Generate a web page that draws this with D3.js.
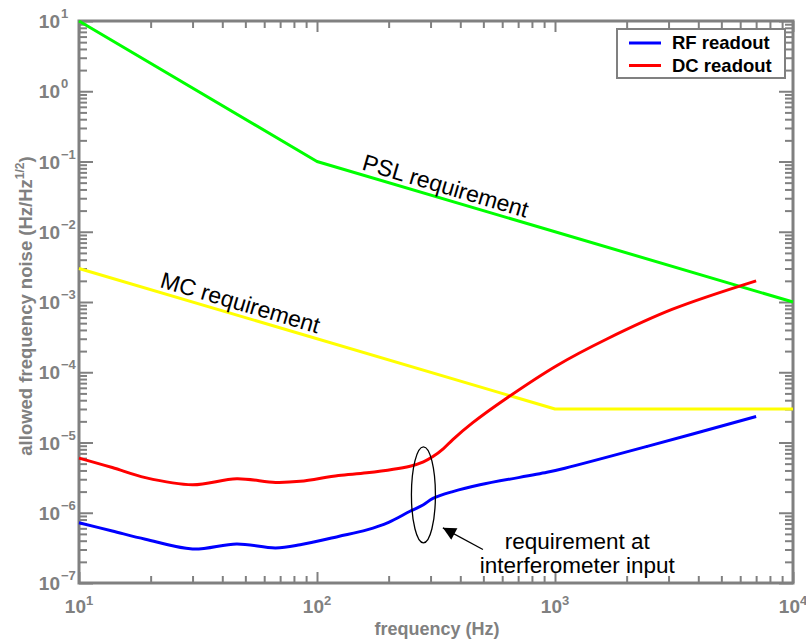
<!DOCTYPE html>
<html>
<head>
<meta charset="utf-8">
<script src="https://cdn.jsdelivr.net/npm/d3@7"></script>
<style>
  body { margin: 0; background: #fff; }
  svg { display: block; }
  text { font-family: "Liberation Sans", Arial, Helvetica, sans-serif; }
  .tick line { stroke: #808080; stroke-width: 2; }
  .domain { display: none; }
</style>
</head>
<body>
<svg id="chart" width="806" height="641"></svg>
<script>
// requirement lines (frequency in Hz, noise in Hz/Hz^1/2)
const pslFreq = [10, 100, 10000];
const pslNoise = [10, 0.1, 1e-3];
const mcFreq = [10, 1000, 10000];
const mcNoise = [3e-3, 3e-5, 3e-5];

// readout curves
const rfFreq = [10, 13.8, 19, 30, 46, 67, 85, 123, 162, 200, 246, 280, 307, 372, 484, 925, 1100, 2440, 7000];
const rfNoise = [7.2e-7, 5.5e-7, 4.2e-7, 3.05e-7, 3.6e-7, 3.16e-7, 3.5e-7, 4.6e-7, 5.7e-7, 7.3e-7, 1.05e-6, 1.3e-6, 1.6e-6, 2.0e-6, 2.5e-6, 3.76e-6, 4.3e-6, 8.8e-6, 2.35e-5];
const dcFreq = [10, 13.8, 19, 30, 46, 67, 85, 123, 162, 246, 280, 307, 340, 372, 450, 628, 1020, 1660, 3120, 7000];
const dcNoise = [6.0e-6, 4.4e-6, 3.16e-6, 2.5e-6, 3.05e-6, 2.7e-6, 2.8e-6, 3.4e-6, 3.7e-6, 4.6e-6, 5.3e-6, 6.3e-6, 8.2e-6, 1.1e-5, 1.9e-5, 4.3e-5, 1.25e-4, 3.0e-4, 7.9e-4, 2.0e-3];

// tick decades
const xTickExps = [1, 2, 3, 4];
const yTickExps = [-7, -6, -5, -4, -3, -2, -1, 0, 1];

const legendLabels = ["RF readout", "DC readout"];
const legendColors = ["#0000ff", "#ff0000"];

const svg = d3.select("#chart");
const pLeft = 79, pRight = 793, pTop = 21, pBottom = 583;
const gray = "#808080";

const x = d3.scaleLog().domain([10, 1e4]).range([pLeft, pRight]);
const y = d3.scaleLog().domain([1e-7, 10]).range([pBottom, pTop]);

// major and minor tick values
function minors(exps) {
    let out = [];
    for (let i = 0; i < exps.length - 1; i++) {
        for (let m = 2; m <= 9; m++) out.push(m * Math.pow(10, exps[i]));
    }
    return out;
}
const xMajor = xTickExps.map(e => Math.pow(10, e));
const yMajor = yTickExps.map(e => Math.pow(10, e));
const xMinor = minors(xTickExps);
const yMinor = minors(yTickExps);

function addAxis(axis, tr) {
    svg.append("g").attr("transform", tr).call(axis);
}
addAxis(d3.axisBottom(x).tickValues(xMajor).tickSize(-11).tickFormat(""), `translate(0,${pBottom})`);
addAxis(d3.axisBottom(x).tickValues(xMinor).tickSize(-7).tickFormat(""), `translate(0,${pBottom})`);
addAxis(d3.axisTop(x).tickValues(xMajor).tickSize(-11).tickFormat(""), `translate(0,${pTop})`);
addAxis(d3.axisTop(x).tickValues(xMinor).tickSize(-7).tickFormat(""), `translate(0,${pTop})`);
addAxis(d3.axisLeft(y).tickValues(yMajor).tickSize(-14).tickFormat(""), `translate(${pLeft},0)`);
addAxis(d3.axisLeft(y).tickValues(yMinor).tickSize(-8).tickFormat(""), `translate(${pLeft},0)`);
addAxis(d3.axisRight(y).tickValues(yMajor).tickSize(-14).tickFormat(""), `translate(${pRight},0)`);
addAxis(d3.axisRight(y).tickValues(yMinor).tickSize(-8).tickFormat(""), `translate(${pRight},0)`);

// frame
svg.append("rect")
    .attr("x", pLeft).attr("y", pTop)
    .attr("width", pRight - pLeft).attr("height", pBottom - pTop)
    .attr("fill", "none").attr("stroke", gray).attr("stroke-width", 3);

// x tick labels
const xl = svg.append("g").selectAll("text").data(xTickExps).enter().append("text")
    .attr("x", d => x(Math.pow(10, d)))
    .attr("y", 613)
    .attr("text-anchor", "middle")
    .attr("fill", gray)
    .attr("font-weight", "bold");
xl.append("tspan").attr("font-size", 19).text("10");
xl.append("tspan").attr("font-size", 13).attr("dy", -8).text(d => String(d).replace("-", "\u2212"));

// y tick labels
const yl = svg.append("g").selectAll("g").data(yTickExps).enter().append("g");
yl.append("text")
    .attr("x", 60).attr("y", d => y(Math.pow(10, d)) + 7)
    .attr("text-anchor", "end")
    .attr("fill", gray).attr("font-weight", "bold").attr("font-size", 19)
    .text("10");
yl.append("text")
    .attr("x", 61).attr("y", d => y(Math.pow(10, d)) - 3)
    .attr("fill", gray).attr("font-weight", "bold").attr("font-size", 13)
    .text(d => String(d).replace("-", "\u2212"));

// axis titles
svg.append("text")
    .attr("x", 437).attr("y", 635)
    .attr("text-anchor", "middle")
    .attr("fill", gray).attr("font-weight", "bold").attr("font-size", 18)
    .text("frequency (Hz)");

const yt = svg.append("text")
    .attr("transform", "translate(32,306) rotate(-90)")
    .attr("text-anchor", "middle")
    .attr("fill", gray).attr("font-weight", "bold").attr("font-size", 18.5);
yt.append("tspan").text("allowed frequency noise (Hz/Hz");
yt.append("tspan").attr("font-size", 12).attr("dy", -8).text("1/2");
yt.append("tspan").attr("dy", 8).text(")");

// curves
const line = d3.line()
    .x(d => x(d[0]))
    .y(d => y(d[1]));
const smooth = d3.line()
    .x(d => x(d[0]))
    .y(d => y(d[1]))
    .curve(d3.curveCatmullRom.alpha(0.5));

function drawLine(gen, fx, fy, color) {
    svg.append("path")
        .datum(d3.zip(fx, fy))
        .attr("d", gen)
        .attr("fill", "none")
        .attr("stroke", color)
        .attr("stroke-width", 3)
        .attr("stroke-linejoin", "round");
}
drawLine(line, pslFreq, pslNoise, "#00ff00");
drawLine(line, mcFreq, mcNoise, "#ffff00");
drawLine(smooth, dcFreq, dcNoise, "#ff0000");
drawLine(smooth, rfFreq, rfNoise, "#0000ff");

// labels along the requirement lines
function lineLabel(txt, f, fa, fb, va, vb) {
    let xa = x(fa), xb = x(fb), ya = y(va), yb = y(vb);
    let ang = Math.atan2(yb - ya, xb - xa) * 180 / Math.PI;
    let px = x(f), py = ya + (yb - ya) * (px - xa) / (xb - xa);
    svg.append("text")
        .attr("transform", `translate(${px},${py}) rotate(${ang})`)
        .attr("dy", -5)
        .attr("text-anchor", "middle")
        .attr("font-size", 23)
        .attr("fill", "#000")
        .text(txt);
}
lineLabel("PSL requirement", 335, pslFreq[1], pslFreq[2], pslNoise[1], pslNoise[2]);
lineLabel("MC requirement", 46, mcFreq[0], mcFreq[1], mcNoise[0], mcNoise[1]);

// ellipse and arrow annotation
svg.append("ellipse")
    .attr("cx", x(280)).attr("cy", y(1.8e-6))
    .attr("rx", 12).attr("ry", 48)
    .attr("fill", "none").attr("stroke", "#000").attr("stroke-width", 1.3);

svg.append("defs").append("marker")
    .attr("id", "head")
    .attr("viewBox", "0 0 10 10")
    .attr("refX", 10).attr("refY", 5)
    .attr("markerWidth", 16).attr("markerHeight", 13)
    .attr("markerUnits", "userSpaceOnUse")
    .attr("orient", "auto")
    .append("path").attr("d", "M0,0 L10,5 L0,10 Z").attr("fill", "#000");

svg.append("line")
    .attr("x1", x(498)).attr("y1", y(3.0e-7))
    .attr("x2", x(338)).attr("y2", y(6.1e-7))
    .attr("stroke", "#000").attr("stroke-width", 1.3)
    .attr("marker-end", "url(#head)");

const noteX = x(1240);
svg.append("text")
    .attr("x", noteX).attr("y", y(3.0e-7))
    .attr("text-anchor", "middle")
    .attr("font-size", 22.5).attr("fill", "#000")
    .text("requirement at");
svg.append("text")
    .attr("x", noteX).attr("y", y(3.0e-7) + 23.5)
    .attr("text-anchor", "middle")
    .attr("font-size", 22.5).attr("fill", "#000")
    .text("interferometer input");

// legend
const lg = svg.append("g");
lg.append("rect")
    .attr("x", 617).attr("y", 29).attr("width", 168).attr("height", 49)
    .attr("fill", "#fff").attr("stroke", gray).attr("stroke-width", 2);
const items = lg.selectAll("g").data(legendLabels).enter().append("g")
    .attr("transform", (d, i) => `translate(0,${43 + i * 22.5})`);
items.append("line")
    .attr("x1", 629).attr("x2", 661)
    .attr("stroke", (d, i) => legendColors[i]).attr("stroke-width", 3);
items.append("text")
    .attr("x", 672).attr("y", 6)
    .attr("font-size", 18.5).attr("font-weight", "bold").attr("fill", "#000")
    .text(d => d);
</script>
</body>
</html>
